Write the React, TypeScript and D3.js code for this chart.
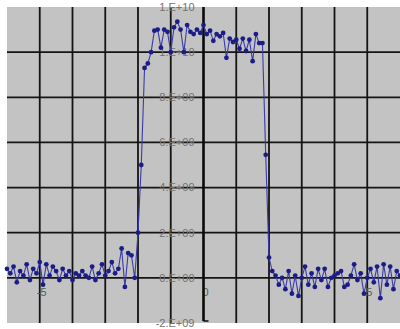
import React from "react";
import * as d3 from "d3";

// x positions: -6.0 .. 6.0 step 0.1 (121 points)
const xStart = -6.0;
const xStep = 0.1;
// values in units of 1e9
const leftNoise = [
  0.4, 0.2, 0.5, -0.2, 0.3, 0.1, 0.6, -0.1, 0.4, 0.2,
  0.7, -0.3, 0.6, 0.1, 0.5, 0.3, -0.1, 0.4, 0.1, 0.3,
  -0.1, 0.2, 0.1, 0.3, 0.1, 0.0, 0.5, -0.1, 0.2, 0.6,
  0.1, 0.3, 0.7, 0.2, 0.4, 1.3, -0.4, 1.1, 1.0, 0.0,
];
const plateau = [
  2.0, 5.0, 9.3, 9.5, 10.0, 10.95, 11.0, 10.2, 11.0, 10.9,
  10.0, 11.1, 11.35, 11.0, 10.0, 11.2, 10.9, 10.8, 11.0, 10.85,
  11.2, 10.8, 10.95, 10.5, 10.8, 10.7, 10.85, 9.75, 10.6, 10.45,
  10.55, 10.15, 10.6, 10.05, 10.55, 9.6, 10.8, 10.4, 10.4, 5.45,
  0.9,
];
const rightNoise = [
  0.3, 0.1, -0.3, 0.0, -0.5, 0.3, -0.7, 0.1, -0.8, 0.0,
  0.5, -0.3, 0.2, -0.4, 0.4, -0.1, 0.4, -0.4, 0.0, 0.1,
  0.2, 0.3, -0.4, -0.3, 0.1, 0.6, -0.1, 0.2, -0.7, 0.0,
  0.4, -0.2, 0.5, -0.9, 0.6, -0.3, 0.5, -0.5, 0.3, 0.1,
];
const values = [...leftNoise, ...plateau, ...rightNoise];

const yTicks = [-2e9, 0, 2e9, 4e9, 6e9, 8e9, 1e10, 1.2e10];
const yTickLabels = ["-2.E+09", "0.E+00", "2.E+09", "4.E+09", "6.E+09", "8.E+09", "1.E+10", "1.E+10"];
const xGrid = [-5, -4, -3, -2, -1, 0, 1, 2, 3, 4, 5];
const xTickLabels = [
  { v: -5, t: "-5" },
  { v: 0, t: "0" },
  { v: 5, t: "5" },
];

export default function App() {
  const W = 400;
  const H = 329;
  const left = 7, right = 400, top = 7, bottom = 323;
  const x = d3.scaleLinear().domain([-6, 6]).range([left, right]);
  const y = d3.scaleLinear().domain([-2e9, 1.2e10]).range([bottom, top]);
  const pts = values.map((v, i) => ({ xv: xStart + i * xStep, yv: v * 1e9 }));
  const line = d3
    .line<{ xv: number; yv: number }>()
    .x((d) => x(d.xv))
    .y((d) => y(d.yv));

  return (
    <svg
      width={W}
      height={H}
      style={{ position: "absolute", left: 0, top: 0, background: "#fff" }}
      fontFamily="Arial, Liberation Sans, sans-serif"
    >
      <rect x={left} y={top} width={right - left} height={bottom - top} fill="#c3c3c3" />
      {yTicks.slice(1, -1).map((t) => (
        <line key={"h" + t} x1={left} x2={right} y1={y(t)} y2={y(t)} stroke="#141414" strokeWidth={1.8} />
      ))}
      {xGrid.filter((v) => v !== 0).map((v) => (
        <line key={"v" + v} x1={x(v)} x2={x(v)} y1={top} y2={bottom} stroke="#141414" strokeWidth={1.8} />
      ))}
      {yTicks.map((t, i) => (
        <text
          key={"yl" + i}
          x={x(0) - 9}
          y={y(t)}
          dy="0.35em"
          textAnchor="end"
          fontSize={11}
          fill="#727272"
        >
          {yTickLabels[i]}
        </text>
      ))}
      {xTickLabels.map((d) => (
        <text key={"xl" + d.v} x={x(d.v) + 2} y={y(0) + 18} textAnchor="middle" fontSize={11} fill="#5a5a5a">
          {d.t}
        </text>
      ))}
      <line x1={x(0)} x2={x(0)} y1={top} y2={bottom - 2} stroke="#0a0a0a" strokeWidth={2.6} />
      <line x1={x(0)} x2={x(0) + 5} y1={bottom - 2} y2={bottom - 2} stroke="#0a0a0a" strokeWidth={1.5} />
      <path d={line(pts) || ""} fill="none" stroke="#3a3aa8" strokeWidth={1.1} />
      {pts.map((p, i) => (
        <circle key={i} cx={x(p.xv)} cy={y(p.yv)} r={2.4} fill="#1c1c88" />
      ))}
    </svg>
  );
}
